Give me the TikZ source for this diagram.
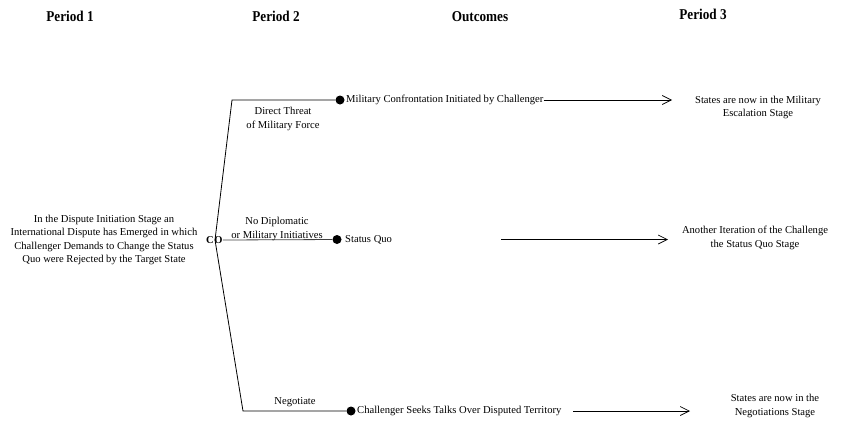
\documentclass[tikz,border=0pt]{standalone}
\usepackage{fontspec}
\setmainfont{Liberation Serif}
\newfontfamily\headfont{Liberation Serif}[FakeStretch=0.88]
\usetikzlibrary{arrows.meta}
\begin{document}
\begin{tikzpicture}[x=1pt,y=-1pt,
  head/.style={font=\headfont\bfseries\fontsize{15}{17}\selectfont, inner sep=0pt},
  txt/.style={font=\fontsize{10.6}{13.6}\selectfont, align=center, inner sep=0pt},
  outc/.style={font=\fontsize{10.6}{13}\selectfont, anchor=west, inner sep=0pt},
  dotn/.style={circle, fill=black, minimum size=9pt, inner sep=0pt},
  branch/.style={line width=0.8pt, black},
  flow/.style={line width=0.7pt, -{Straight Barb[length=9pt,width=9pt,line width=0.7pt]}}]
\useasboundingbox (0,0) rectangle (844,426);

% column headings
\node[head] (h1) at (70,16) {Period 1};
\node[head] (h2) at (276,16) {Period 2};
\node[head] (h3) at (480,17) {Outcomes};
\node[head] (h4) at (703,14) {Period 3};

% initial situation
\node[txt] (init) at (104,240) {In the Dispute Initiation Stage an\\International Dispute has Emerged in which\\Challenger Demands to Change the Status\\Quo were Rejected by the Target State};

% decision node of the challenger
\node[font=\bfseries\fontsize{10.5}{12}\selectfont, inner sep=0pt] (c) at (210,240) {C};
\node[font=\bfseries\fontsize{10.5}{12}\selectfont, inner sep=0pt] (o) at (218.5,240) {O};
\coordinate (root) at (215,240);
\coordinate (topc) at (232,100);
\coordinate (botc) at (243,411);

% outcome dots
\node[dotn] (d1) at (340,100) {};
\node[dotn] (d2) at (337,239.5) {};
\node[dotn] (d3) at (351,411) {};

% branches
\draw[branch] (root) -- (topc) -- (d1);
\draw[branch, black!75] (o.east) -- (d2);
\draw[branch] (root) -- (botc) -- (d3);

% branch labels
\node[txt] (l1) at (283,119) {Direct Threat\\of Military Force};
\node[txt] (l2) at (277,229) {No Diplomatic\\or Military Initiatives};
\node[txt] (l3) at (295,402) {Negotiate};

% outcomes
\node[outc] (o1) at (346,100) {Military Confrontation Initiated by Challenger};
\node[outc] (o2) at (345,239.5) {Status Quo};
\node[outc] (o3) at (357,411) {Challenger Seeks Talks Over Disputed Territory};

% next stages
\node[txt] (r1) at (758,107.5) {States are now in the Military\\Escalation Stage};
\node[txt] (r2) at (755,238) {Another Iteration of the Challenge\\the Status Quo Stage};
\node[txt] (r3) at (775,406) {States are now in the\\Negotiations Stage};

% transitions to period 3
\coordinate (a2) at (501,239.5);
\coordinate (a3) at (573,411);
\draw[flow] (o1.east) -- (672,100);
\draw[flow] (a2) -- (668,239.5);
\draw[flow] (a3) -- (690,411);
\end{tikzpicture}
\end{document}
